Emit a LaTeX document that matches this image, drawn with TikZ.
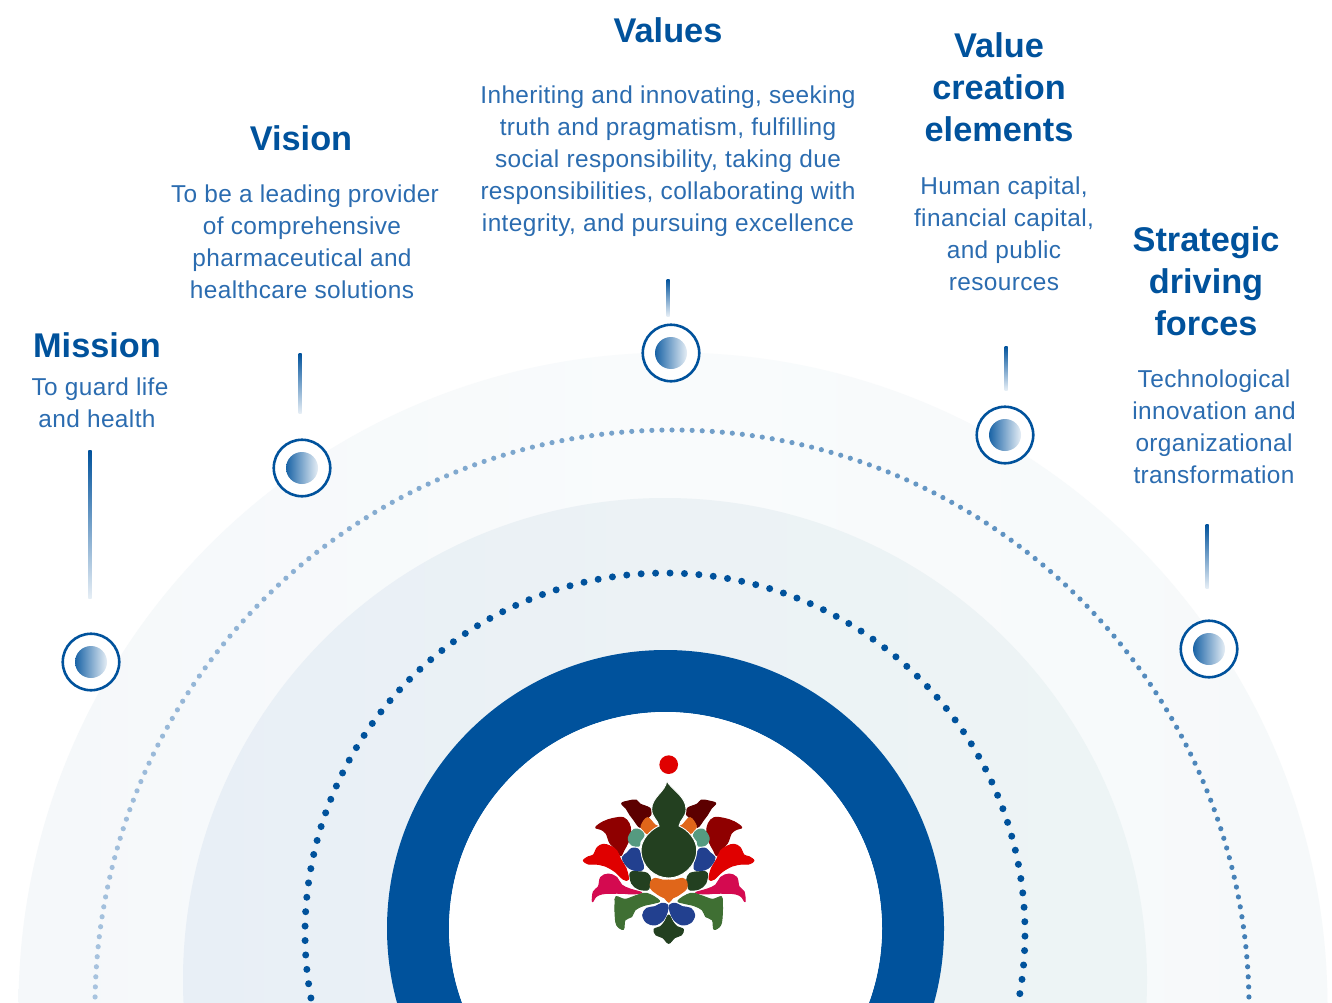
\documentclass[tikz,border=0pt]{standalone}
\usepackage{fontspec}
\setmainfont{Liberation Sans}[LetterSpace=1.6]
\newfontfamily\headfont{Liberation Sans}[BoldFont={Liberation Sans Bold}]
\definecolor{headblue}{HTML}{00529C}
\definecolor{bodyblue}{HTML}{2B6CB0}
\definecolor{ringblue}{HTML}{00529C}
\definecolor{lightdot}{HTML}{A9C4DF}
\definecolor{darkdot}{HTML}{3F7DB5}
\definecolor{outerL}{HTML}{F5F8FA}
\definecolor{outerM}{HTML}{F9FBFC}
\definecolor{outerR}{HTML}{F6F9FA}
\definecolor{midL}{HTML}{E8EFF6}
\definecolor{midM}{HTML}{ECF2F5}
\definecolor{midR}{HTML}{EDF4F5}
\definecolor{lgA}{HTML}{5C0000}
\definecolor{lgB}{HTML}{8F0000}
\definecolor{lgC}{HTML}{E00000}
\definecolor{lgD}{HTML}{D40A50}
\definecolor{lgE}{HTML}{3F6F33}
\definecolor{lgF}{HTML}{22408F}
\definecolor{lgG}{HTML}{234020}
\definecolor{lgH}{HTML}{E0661A}
\definecolor{lgI}{HTML}{559A80}
\tikzset{
  x=1pt,y=-1pt,
  headtext/.style={text=headblue,align=center,font=\headfont\fontsize{34.3}{42}\selectfont\bfseries,inner sep=0pt},
  bodytext/.style={text=bodyblue,align=center,font=\fontsize{24.4}{32}\selectfont,inner sep=0pt},
  stemline/.style={top color=ringblue,middle color=ringblue!75,bottom color=ringblue!10,draw=none},
  markerring/.style={circle,draw=ringblue,line width=2.6pt,fill=white,minimum size=56.5pt,inner sep=0pt},
  markercore/.style={left color=ringblue!90,right color=ringblue!10,draw=none},
  petal/.style={smooth cycle,tension=0.6},
  logopart/.style={fill=#1,draw=#1,line width=1pt,line join=round},
}
\newcommand{\logohalf}{%
  \path[logopart=lgA] plot[petal] coordinates {(-141,190)(-121,183)(-98,180)(-86,192)(-56,205)(-54,225)(-71,240)(-86,262)(-106,238)(-116,225)(-128,205)};
  \path[logopart=lgB] plot[petal] coordinates {(-219,262)(-196,245)(-166,235)(-136,233)(-119,250)(-114,275)(-121,305)(-134,330)(-144,347)(-156,330)(-176,310)(-188,280)(-204,268)};
  \path[logopart=lgC] plot[petal] coordinates {(-256,362)(-241,350)(-226,345)(-214,322)(-196,313)(-176,318)(-156,332)(-144,358)(-128,385)(-121,418)(-136,418)(-161,395)(-191,378)(-221,372)(-241,372)};
  \path[logopart=lgD] plot[petal] coordinates {(-229,485)(-226,455)(-211,440)(-204,412)(-181,402)(-156,412)(-141,435)(-116,447)(-81,458)(-111,462)(-136,460)(-176,460)(-201,462)(-218,470)};
  \path[logopart=lgE] plot[petal] coordinates {(-161,490)(-158,470)(-131,478)(-101,468)(-66,460)(-28,482)(-46,490)(-76,497)(-101,510)(-111,530)(-131,540)(-136,568)(-156,555)(-161,520)};
  \path[logopart=lgF] plot[petal] coordinates {(-78,525)(-66,505)(-41,500)(-21,490)(-3,495)(-4,515)(-16,540)(-41,555)(-66,548)};
  \path[logopart=lgG] plot[petal] coordinates {(-116,400)(-101,395)(-64,400)(-54,420)(-58,440)(-64,450)(-91,447)(-111,430)};
  \path[logopart=lgF] plot[petal] coordinates {(-139,352)(-124,338)(-111,325)(-92,327)(-84,345)(-76,385)(-96,392)(-118,385)(-132,370)};
  \path[logopart=lgI] plot[petal] coordinates {(-118,285)(-104,268)(-86,270)(-74,285)(-86,305)(-89,318)(-111,315)(-121,300)};
  \path[logopart=lgH] plot[petal] coordinates {(-83,258)(-64,233)(-41,255)(-28,262)(-51,272)(-64,282)(-76,270)};
}
\begin{document}
\begin{tikzpicture}
\clip (0,0) rectangle (1332,1003);
\fill[white] (0,0) rectangle (1332,1003);
% background discs
\shade[left color=outerL,right color=outerR,middle color=outerM] (673,1007) circle[radius=654.5];
\shade[left color=midL,right color=midR,middle color=midM] (665,980) circle[radius=482];
% outer dotted ring
\foreach \a in {-1,0,...,181}{
  \pgfmathsetmacro{\m}{max(0,min(100,\a/1.8))}
  \fill[darkdot!\m!lightdot] ({672+577*cos(180-\a)},{1007-577*sin(180-\a)}) circle[radius=2.6];
}
% inner dotted ring
\foreach \a in {-12,-9.7,...,193}{
  \fill[ringblue] ({665+360*cos(\a)},{933-360*sin(\a)}) circle[radius=3.5];
}
% blue ring
\fill[ringblue,even odd rule] (665.5,928.5) circle[radius=278.5] (665.5,928.5) circle[radius=216.5];
\fill[white] (665.5,928.5) circle[radius=216.5];
% logo
\begin{scope}[shift={(668.7,740)},x=0.3333pt,y=-0.3333pt]
  \fill[lgC] (0,74) circle[radius=28];
  \logohalf
  \begin{scope}[xscale=-1]\logohalf\end{scope}
  \path[logopart=lgG] plot[petal] coordinates {(-44,568)(-25,560)(-12,545)(0,525)(12,545)(25,560)(44,568)(38,585)(18,593)(0,610)(-18,593)(-38,585)};
  \path[logopart=lgH] plot[petal] coordinates {(-54,425)(-41,415)(-20,420)(0,420)(20,420)(41,415)(54,425)(54,445)(40,458)(25,468)(12,474)(0,487)(-12,474)(-25,468)(-40,458)(-54,445)};
  \path[fill=lgG,draw=white,line width=0.9pt] (-6,122) .. controls (6,148) and (52,168) .. (52,208) .. controls (52,232) and (33,240) .. (31,258) .. controls (59,270) and (84,300) .. (84,330) .. controls (84,380) and (39,414) .. (0,414) .. controls (-41,414) and (-83,380) .. (-83,330) .. controls (-83,300) and (-56,270) .. (-29,258) .. controls (-32,240) and (-51,232) .. (-51,208) .. controls (-51,170) and (-8,155) .. (-6,122) -- cycle;
\end{scope}
% stems
\shade[stemline] (88.3,450) rectangle (91.7,598);
\shade[stemline] (298.5,353) rectangle (301.5,413);
\shade[stemline] (666.5,279) rectangle (669.5,316);
\shade[stemline] (1004.5,346) rectangle (1007.5,390);
\shade[stemline] (1205.5,524) rectangle (1208.5,588);
% markers
\node[markerring] (mMission) at (91,662) {};
\node[markerring] (mVision) at (302,468) {};
\node[markerring] (mValues) at (671,353) {};
\node[markerring] (mElements) at (1005,435) {};
\node[markerring] (mForces) at (1209,649) {};
\shade[markercore] (mMission.center) circle[radius=16];
\shade[markercore] (mVision.center) circle[radius=16];
\shade[markercore] (mValues.center) circle[radius=16];
\shade[markercore] (mElements.center) circle[radius=16];
\shade[markercore] (mForces.center) circle[radius=16];
% headings
\node[headtext] (hMission) at (97,345) {Mission};
\node[headtext] (hVision) at (301,138) {Vision};
\node[headtext] (hValues) at (668,30) {Values};
\node[headtext] (hElements) at (999,87) {Value\\creation\\elements};
\node[headtext] (hForces) at (1206,281) {Strategic\\driving\\forces};
% bodies
\node[bodytext] (bMission) at (97,403) {\hspace{6pt}To guard life\\and health};
\node[bodytext] (bVision) at (302,242) {\hspace{6pt}To be a leading provider\\of comprehensive\\pharmaceutical and\\healthcare solutions};
\node[bodytext] (bValues) at (668,161) {Inheriting and innovating, seeking\\truth and pragmatism, fulfilling\\social responsibility, taking due\\responsibilities, collaborating with\\integrity, and pursuing excellence};
\node[bodytext] (bElements) at (1004,234) {Human capital,\\financial capital,\\and public\\resources};
\node[bodytext] (bForces) at (1214,427) {Technological\\innovation and\\organizational\\transformation};
\end{tikzpicture}
\end{document}
